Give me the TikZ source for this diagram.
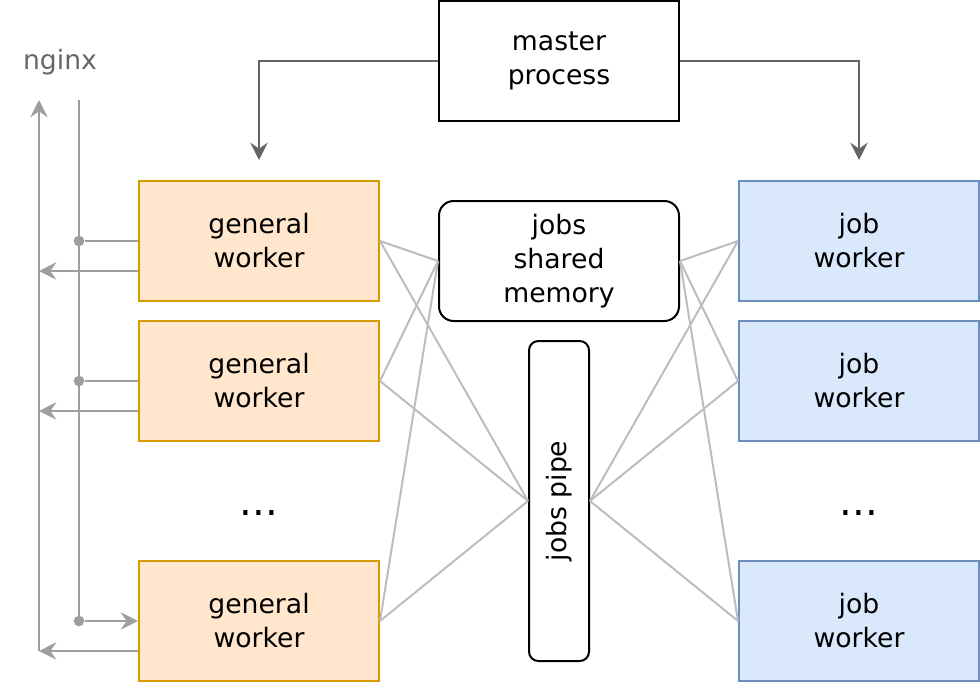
\documentclass[tikz,border=0pt]{standalone}
\usepackage{fontspec}
\setmainfont{DejaVu Sans}
\usepackage{xcolor}
\usepackage{tikz}
\usetikzlibrary{arrows.meta,positioning}
\definecolor{genfill}{HTML}{FFE6CC}
\definecolor{gendraw}{HTML}{D79B00}
\definecolor{jobfill}{HTML}{DAE8FC}
\definecolor{jobdraw}{HTML}{6C8EBF}
\definecolor{linkgray}{HTML}{BDBDBD}
\definecolor{flowgray}{HTML}{9E9E9E}
\definecolor{mastergray}{HTML}{666666}

\begin{document}
\begin{tikzpicture}[x=0.75pt,y=-0.75pt,
    font=\fontsize{20}{25.5}\selectfont,
    every node/.style={align=center,inner sep=0pt},
    plainbox/.style={draw,line width=1.5pt,minimum width=180pt,minimum height=90pt},
    genbox/.style={plainbox,draw=gendraw,fill=genfill},
    jobbox/.style={plainbox,draw=jobdraw,fill=jobfill},
    roundbox/.style={plainbox,rounded corners=11pt},
    dots/.style={anchor=base,font=\fontsize{30}{30}\selectfont},
    tip/.style={-{Stealth[length=13pt,width=13pt,inset=4.5pt]}},
    masterarrow/.style={tip,draw=mastergray,line width=1.5pt},
    flow/.style={draw=flowgray,line width=1.5pt},
    flowarrow/.style={flow,tip},
    link/.style={draw=linkgray,line width=1.5pt},
    tapdot/.style={circle,fill=flowgray,minimum size=8pt}]
    \useasboundingbox (0,0) rectangle (980,682);

    % Master
    \node[plainbox] (master) at (559,61) {master\\process};
    \coordinate (genin) at (259,160);
    \coordinate (jobin) at (859,160);

    % General workers
    \node[genbox] (gen1) at (259,241) {general\\worker};
    \node[genbox] (gen2) at (259,381) {general\\worker};
    \node[dots] (gendots) at (259,515) {...};
    \node[genbox] (gen3) at (259,621) {general\\worker};

    % Job workers
    \node[jobbox] (job1) at (859,241) {job\\worker};
    \node[jobbox] (job2) at (859,381) {job\\worker};
    \node[dots] (jobdots) at (859,515) {...};
    \node[jobbox] (job3) at (859,621) {job\\worker};

    % Shared memory and pipe (pipe.north is its left side, pipe.south its right)
    \node[roundbox] (shm) at (559,261) {jobs\\shared\\memory};
    \node[roundbox,minimum width=240pt,minimum height=45pt,rotate=90,rounded corners=7pt] (pipe) at (559,501) {jobs pipe};

    % Links
    \foreach \g in {gen1,gen2,gen3} {
        \draw[link] (\g.east) -- (shm.west);
        \draw[link] (\g.east) -- (pipe.north);
    }
    \foreach \j in {job1,job2,job3} {
        \draw[link] (\j.west) -- (shm.east);
        \draw[link] (\j.west) -- (pipe.south);
    }

    % Master to workers
    \draw[masterarrow] (master.west) -| (genin);
    \draw[masterarrow] (master.east) -| (jobin);

    % nginx
    \node[text=mastergray] (nginx) at (60,62) {nginx};
    \coordinate (intop) at (79,100);
    \coordinate (outtop) at (39,100);
    \coordinate (ret1) at (39,271);
    \coordinate (ret2) at (39,411);
    \coordinate (ret3) at (39,651);
    \node[tapdot] (tap1) at (79,241) {};
    \node[tapdot] (tap2) at (79,381) {};
    \node[tapdot] (tap3) at (79,621) {};

    \draw[flow] (intop) -- (tap3.center);
    \draw[flow] (tap1) -- (gen1.west);
    \draw[flow] (tap2) -- (gen2.west);
    \draw[flowarrow] (tap3) -- (gen3.west);
    \draw[flowarrow] (gen1.west |- ret1) -- (ret1);
    \draw[flowarrow] (gen2.west |- ret2) -- (ret2);
    \draw[flowarrow] (gen3.west |- ret3) -- (ret3);
    \draw[flowarrow] (ret3) -- (outtop);
\end{tikzpicture}
\end{document}
